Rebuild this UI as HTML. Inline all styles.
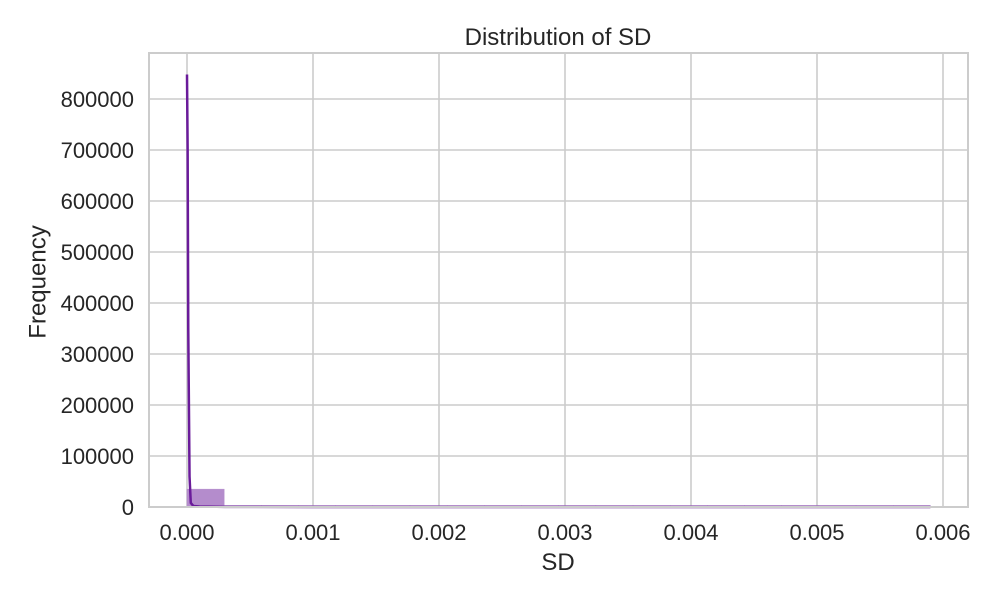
<!DOCTYPE html>
<html><head><meta charset="utf-8"><style>
body{margin:0;background:#fff;font-family:"Liberation Sans",sans-serif}
svg text{font-family:"Liberation Sans",sans-serif;fill:#262626}
</style></head><body>
<svg id="chart" width="1000" height="600" xmlns="http://www.w3.org/2000/svg">
<g id="grid"></g><g id="bars"></g><g id="kde"></g><g id="axes"></g>
</svg>
<script>
const binEdgesStart = 0, binWidth = 0.000295;
const binCounts = [35000, 1500, 600, 300, 200, 100, 80, 60, 50, 40, 30, 20, 20, 10, 10, 10, 5, 5, 5, 5];
const kdeX = [0, 0.000005, 0.00001, 0.00002, 0.00003, 0.00005, 0.0001, 0.0003, 0.001, 0.0059];
const kdeY = [848000, 700000, 350000, 60000, 8000, 2000, 1000, 300, 50, 0];
const xTicks = [0, 0.001, 0.002, 0.003, 0.004, 0.005, 0.006];
const xTickLabels = ["0.000","0.001","0.002","0.003","0.004","0.005","0.006"];
const yTicks = [0,100000,200000,300000,400000,500000,600000,700000,800000];

const L=149,R=968,T=53,B=507;
const sx=v=>187+v*126000;
const sy=v=>507-v*0.00051;
const NS="http://www.w3.org/2000/svg";
function mk(tag,attrs,parent){const e=document.createElementNS(NS,tag);for(const k in attrs)e.setAttribute(k,attrs[k]);parent.appendChild(e);return e;}
const grid=document.getElementById('grid'),bars=document.getElementById('bars'),kde=document.getElementById('kde'),axes=document.getElementById('axes');

xTicks.forEach((t,i)=>{
  const g=mk('line',{x1:sx(t),x2:sx(t),y1:T,y2:B,stroke:'#cccccc','stroke-width':1.6},grid);
  
  
  const tx=mk('text',{x:sx(t),y:540,'text-anchor':'middle','font-size':22},axes);
  tx.textContent=xTickLabels[i];
  
  
});
yTicks.forEach(t=>{
  const g=mk('line',{x1:L,x2:R,y1:sy(t),y2:sy(t),stroke:'#cccccc','stroke-width':1.6},grid);
  
  
  const tx=mk('text',{x:134,y:sy(t)+8,'text-anchor':'end','font-size':22},axes);
  tx.textContent=String(t);
  
  
});
binCounts.forEach((c,i)=>{
  const x0=sx(binEdgesStart+i*binWidth),x1=sx(binEdgesStart+(i+1)*binWidth);
  const h=Math.max(B-sy(c),1.5);
  const r=mk('rect',{x:x0,y:B-h,width:x1-x0,height:h,fill:'#b48ccc',stroke:'#b48ccc','stroke-width':0.5},bars);
  
  
});
const p=mk('polyline',{points:kdeX.map((x,i)=>sx(x)+','+sy(kdeY[i])).join(' '),fill:'none',stroke:'#6a1b9a','stroke-width':2.5},kde);



const fr=mk('rect',{x:L,y:T,width:R-L,height:B-T,fill:'none',stroke:'#cccccc','stroke-width':2},axes);


const ti=mk('text',{x:558,y:45,'text-anchor':'middle','font-size':24},axes);ti.textContent='Distribution of SD';


const xl=mk('text',{x:558,y:570,'text-anchor':'middle','font-size':24},axes);xl.textContent='SD';


const yl=mk('text',{x:38,y:282,'text-anchor':'middle','font-size':24,transform:'rotate(-90 38 282)','dominant-baseline':'central'},axes);yl.textContent='Frequency';


</script>
</body></html>
